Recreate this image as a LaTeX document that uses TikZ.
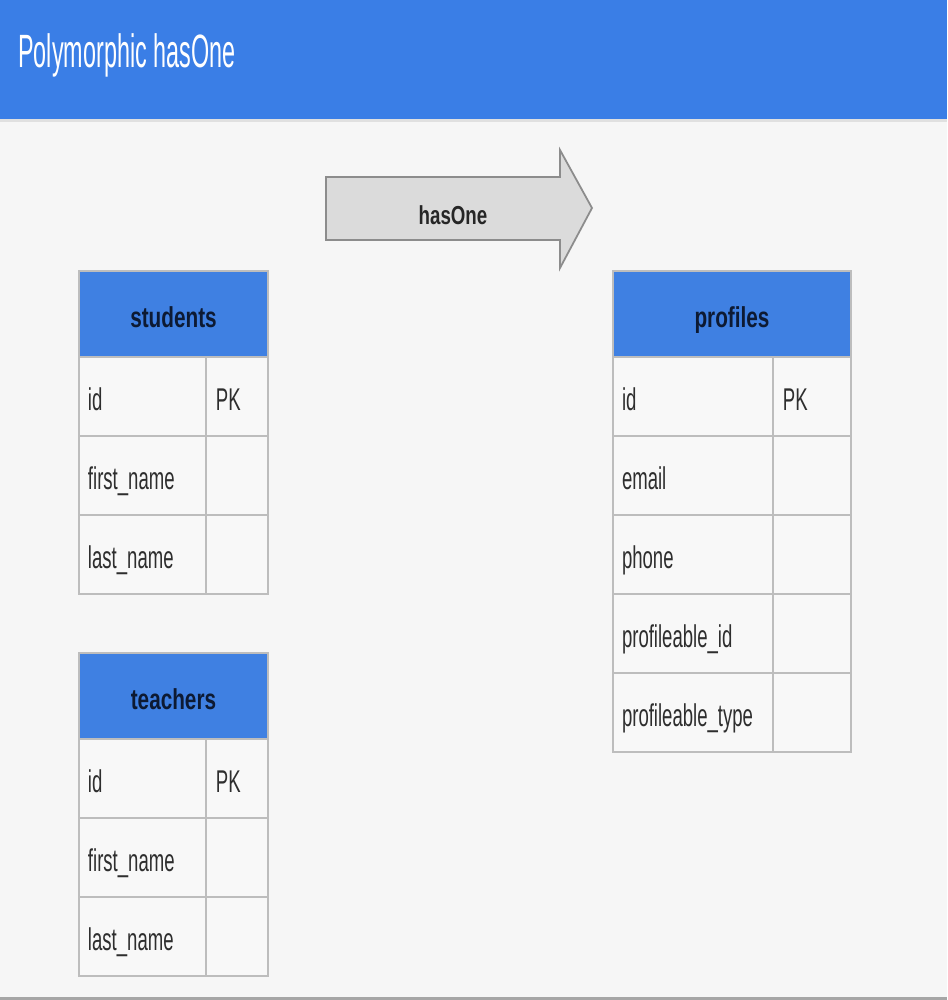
\documentclass[tikz,border=0pt]{standalone}
\usepackage{fontspec}
\setmainfont{Liberation Sans}
\newfontfamily\titlefont[FakeStretch=0.50]{Liberation Sans}
\newfontfamily\headfont[FakeStretch=0.72]{Liberation Sans}
\newfontfamily\cellfont[FakeStretch=0.59]{Liberation Sans}
\usetikzlibrary{positioning}

\definecolor{barblue}{HTML}{3A7EE6}
\definecolor{headblue}{HTML}{3F80E2}
\definecolor{pagebg}{HTML}{F6F6F6}
\definecolor{cellbg}{HTML}{F8F8F8}
\definecolor{gridgray}{HTML}{BDBDBD}
\definecolor{headtext}{HTML}{0D1A33}
\definecolor{celltext}{HTML}{2E2E2E}

\tikzset{
  tblhead/.style={draw=gridgray,line width=1.2pt,fill=headblue,inner sep=0pt,outer sep=0pt,
    minimum height=1.72cm,text height=17pt,text depth=1.1pt,text=headtext,
    font=\headfont\bfseries\fontsize{16.4}{18}\selectfont},
  fldcell/.style={draw=gridgray,line width=1.2pt,fill=cellbg,inner xsep=0.18cm,inner ysep=0pt,outer sep=0pt,
    minimum height=1.58cm,text height=18pt,text depth=1.6pt,align=left,text=celltext,
    font=\cellfont\fontsize{17.9}{20}\selectfont},
  keycell/.style={fldcell,inner xsep=0.2cm}
}

\begin{document}
\begin{tikzpicture}[x=0.02cm,y=-0.02cm]

% page and title bar
\fill [pagebg] (0,0) rectangle (947,1000);
\fill [gray!70] (0,997) rectangle (947,1000);
\fill [black!12] (0,118) rectangle (947,122);
\fill [barblue] (0,0) rectangle (947,119);
\node [anchor=base west,inner sep=0pt,text=white,font=\titlefont\fontsize{26.6}{30}\selectfont] (title) at (18,68) {Polymorphic hasOne};

% big arrow
\draw [draw=black!45,line width=1pt,fill=black!14] (326,177) -- (560,177) -- (560,150) -- (592,208) -- (560,268) -- (560,240) -- (326,240) -- cycle;
\node [anchor=base,inner sep=0pt,font=\headfont\bfseries\fontsize{14.8}{17}\selectfont,text=black!85] (rel) at (453,224) {hasOne};

% students
\node [tblhead,anchor=north west,minimum width=3.78cm] (stuhead) at (79,271) {students};
\node [fldcell,anchor=north west,text width=2.18cm] (stuid) at (stuhead.south west) {id};
\node [keycell,anchor=north west,text width=0.84cm] (stupk) at (stuid.north east) {PK};
\node [fldcell,anchor=north west,text width=2.18cm] (stufirst) at (stuid.south west) {first\_name};
\node [keycell,anchor=north west,text width=0.84cm] (stufirstk) at (stufirst.north east) {};
\node [fldcell,anchor=north west,text width=2.18cm] (stulast) at (stufirst.south west) {last\_name};
\node [keycell,anchor=north west,text width=0.84cm] (stulastk) at (stulast.north east) {};

% teachers
\node [tblhead,anchor=north west,minimum width=3.78cm] (teahead) at (79,653) {teachers};
\node [fldcell,anchor=north west,text width=2.18cm] (teaid) at (teahead.south west) {id};
\node [keycell,anchor=north west,text width=0.84cm] (teapk) at (teaid.north east) {PK};
\node [fldcell,anchor=north west,text width=2.18cm] (teafirst) at (teaid.south west) {first\_name};
\node [keycell,anchor=north west,text width=0.84cm] (teafirstk) at (teafirst.north east) {};
\node [fldcell,anchor=north west,text width=2.18cm] (tealast) at (teafirst.south west) {last\_name};
\node [keycell,anchor=north west,text width=0.84cm] (tealastk) at (tealast.north east) {};

% profiles
\node [tblhead,anchor=north west,minimum width=4.76cm] (prohead) at (613,271) {profiles};
\node [fldcell,anchor=north west,text width=2.84cm] (proid) at (prohead.south west) {id};
\node [keycell,anchor=north west,text width=1.16cm] (propk) at (proid.north east) {PK};
\node [fldcell,anchor=north west,text width=2.84cm] (promail) at (proid.south west) {email};
\node [keycell,anchor=north west,text width=1.16cm] (promailk) at (promail.north east) {};
\node [fldcell,anchor=north west,text width=2.84cm] (prophone) at (promail.south west) {phone};
\node [keycell,anchor=north west,text width=1.16cm] (prophonek) at (prophone.north east) {};
\node [fldcell,anchor=north west,text width=2.84cm] (proableid) at (prophone.south west) {profileable\_id};
\node [keycell,anchor=north west,text width=1.16cm] (proableidk) at (proableid.north east) {};
\node [fldcell,anchor=north west,text width=2.84cm] (proabletype) at (proableid.south west) {profileable\_type};
\node [keycell,anchor=north west,text width=1.16cm] (proabletypek) at (proabletype.north east) {};

\end{tikzpicture}
\end{document}
